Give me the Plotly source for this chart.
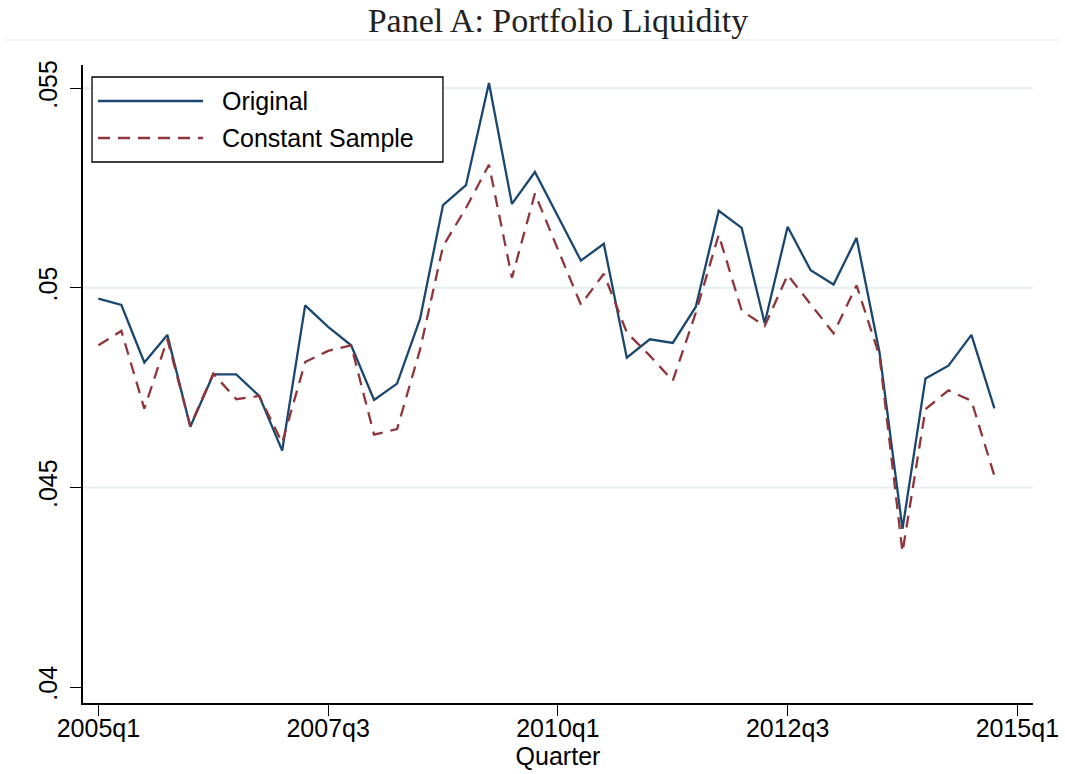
import plotly.graph_objects as go

# ---------------- data ----------------
quarters = [f"{y}q{q}" for y in range(2005, 2015) for q in range(1, 5)]

original = [0.04973, 0.04957, 0.04813, 0.04882, 0.04652, 0.04783, 0.04783, 0.04729, 0.04592, 0.04956,
            0.04902, 0.04856, 0.04719, 0.04760, 0.04922, 0.05207, 0.05257, 0.05513, 0.05210, 0.05290,
            0.05179, 0.05068, 0.05110, 0.04825, 0.04871, 0.04862, 0.04952, 0.05193, 0.05150, 0.04911,
            0.05153, 0.05044, 0.05008, 0.05125, 0.04838, 0.04396, 0.04773, 0.04805, 0.04882, 0.04698]

constant_sample = [0.04856, 0.04892, 0.04697, 0.04871, 0.04654, 0.04785, 0.04721, 0.04729, 0.04612, 0.04814,
                   0.04842, 0.04856, 0.04632, 0.04646, 0.04845, 0.05104, 0.05200, 0.05308, 0.05025, 0.05236,
                   0.05096, 0.04958, 0.05035, 0.04888, 0.04830, 0.04767, 0.04937, 0.05133, 0.04943, 0.04904,
                   0.05032, 0.04958, 0.04886, 0.05006, 0.04829, 0.04338, 0.04696, 0.04743, 0.04717, 0.04529]

x_tick_labels = ["2005q1", "2007q3", "2010q1", "2012q3", "2015q1"]
y_tick_values = [0.04, 0.045, 0.05, 0.055]
y_tick_labels = [".04", ".045", ".05", ".055"]
grid_values = [0.045, 0.05, 0.055]


def qindex(label):
    y, q = label.split("q")
    return (int(y) - 2005) * 4 + int(q) - 1


x = [qindex(q) for q in quarters]

BLUE = "#1a476f"
RED = "#90353b"
DASH = "12px,8px"
FONT = "Liberation Sans, Arial, sans-serif"

fig = go.Figure()
fig.add_trace(go.Scatter(x=x, y=original, mode="lines", name="Original",
                         line=dict(color=BLUE, width=2.3), text=quarters,
                         hovertemplate="%{text}: %{y}<extra></extra>"))
fig.add_trace(go.Scatter(x=x, y=constant_sample, mode="lines", name="Constant Sample",
                         line=dict(color=RED, width=2.3, dash=DASH), text=quarters,
                         hovertemplate="%{text}: %{y}<extra></extra>"))

# gridlines (none at the bottom tick)
for g in grid_values:
    fig.add_shape(type="line", xref="paper", yref="y", x0=0, x1=1, y0=g, y1=g,
                  line=dict(color="#e5eef0", width=2), layer="below")

# thin separator under the title
fig.add_shape(type="line", xref="paper", yref="paper", x0=-0.082, x1=1.028,
              y0=1.0392, y1=1.0392, line=dict(color="#ececec", width=1))

# manual Stata-like legend
fig.add_shape(type="rect", xref="paper", yref="paper", x0=0.0095, x1=0.3789,
              y0=0.848, y1=0.9812, line=dict(color="black", width=1.3), fillcolor="white")
legend_rows = [("Original", BLUE, "solid", 0.9436), ("Constant Sample", RED, DASH, 0.8856)]
for name, col, dash, yy in legend_rows:
    fig.add_shape(type="line", xref="paper", yref="paper", x0=0.0158, x1=0.1263, y0=yy, y1=yy,
                  line=dict(color=col, width=2.3, dash=dash))
    fig.add_annotation(xref="paper", yref="paper", x=0.1442, y=yy, text=name, showarrow=False,
                       xanchor="left", yanchor="middle", font=dict(family=FONT, size=25, color="black"))

fig.update_layout(
    width=1065, height=774,
    paper_bgcolor="white", plot_bgcolor="white",
    margin=dict(l=83, r=32, t=65, b=71, autoexpand=False),
    showlegend=False,
    title=dict(text="Panel A: Portfolio Liquidity", x=0.5, xref="paper", xanchor="center",
               y=0.974, yanchor="middle", automargin=False,
               font=dict(family="Liberation Serif, Times New Roman, serif", size=34, color="#222222")),
    font=dict(family=FONT, size=25, color="black"),
)

fig.update_xaxes(
    range=[-0.67, 40.68], automargin=False,
    tickvals=[qindex(t) for t in x_tick_labels], ticktext=x_tick_labels,
    ticks="outside", ticklen=11, tickwidth=1.3, tickcolor="black",
    ticklabelstandoff=-9,
    showline=True, linecolor="black", linewidth=1.5,
    showgrid=False, zeroline=False,
    tickfont=dict(family=FONT, size=25, color="black"),
    title=dict(text="Quarter", font=dict(family=FONT, size=25, color="black"), standoff=0),
)
fig.update_yaxes(
    range=[0.0396, 0.05558], automargin=False,
    tickvals=y_tick_values, ticktext=y_tick_labels, tickangle=-90,
    ticks="outside", ticklen=11, tickwidth=1.3, tickcolor="black",
    ticklabelstandoff=3,
    showline=True, linecolor="black", linewidth=1.5,
    showgrid=False, zeroline=False,
    tickfont=dict(family=FONT, size=25, color="black"),
)

fig.write_html("out.html", config={"displayModeBar": False},
               post_script="document.body.style.margin='0px';document.body.style.overflow='hidden';")
